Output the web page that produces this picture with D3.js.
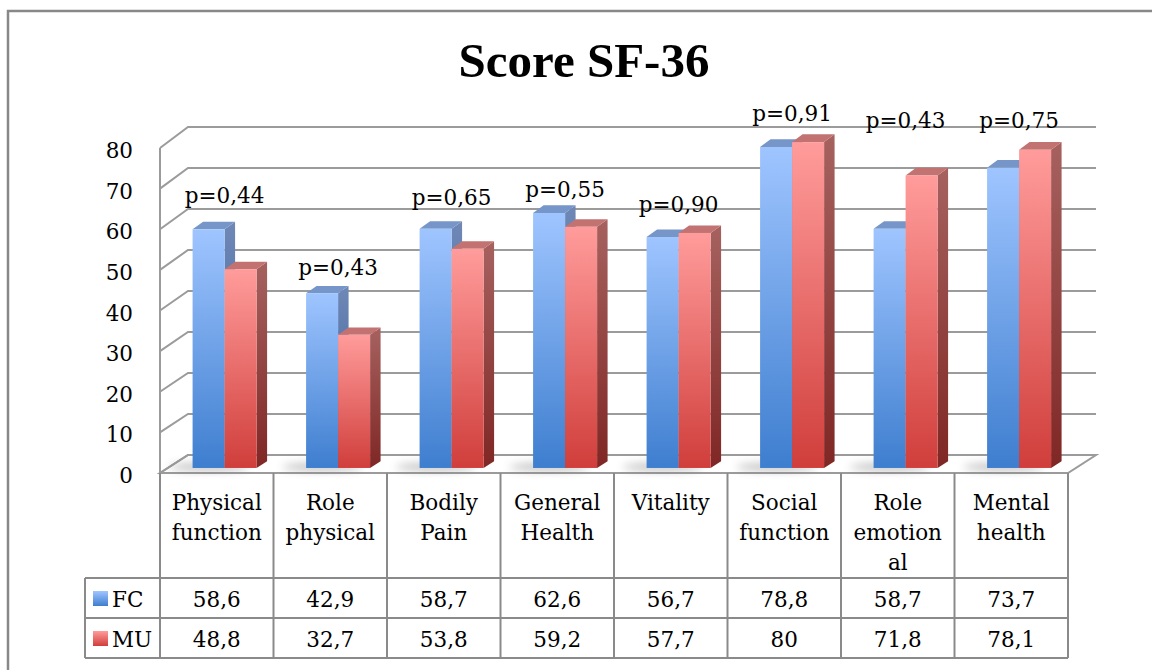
<!DOCTYPE html>
<html>
<head>
<meta charset="utf-8">
<script src="https://cdn.jsdelivr.net/npm/d3@7"></script>
<style>
  body { margin: 0; background: #fff; }
  svg text { font-family: "DejaVu Serif", serif; fill: #000; }
</style>
</head>
<body>
<svg id="chart" width="1152" height="670"></svg>
<script>
// data
var categories = ["Physical function", "Role physical", "Bodily Pain", "General Health",
                  "Vitality", "Social function", "Role emotional", "Mental health"];
var categoryLines = [["Physical", "function"], ["Role", "physical"], ["Bodily", "Pain"], ["General", "Health"],
                     ["Vitality"], ["Social", "function"], ["Role", "emotion", "al"], ["Mental", "health"]];
var series = ["FC", "MU"];
var fcValues = [58.6, 42.9, 58.7, 62.6, 56.7, 78.8, 58.7, 73.7];
var muValues = [48.8, 32.7, 53.8, 59.2, 57.7, 80, 71.8, 78.1];
var fcLabels = ["58,6", "42,9", "58,7", "62,6", "56,7", "78,8", "58,7", "73,7"];
var muLabels = ["48,8", "32,7", "53,8", "59,2", "57,7", "80", "71,8", "78,1"];
var pValues = ["p=0,44", "p=0,43", "p=0,65", "p=0,55", "p=0,90", "p=0,91", "p=0,43", "p=0,75"];
// level (in score units) where each p label sits
var pLabelAt = [65.1, 47.4, 64.6, 66.6, 62.9, 85.2, 83.4, 83.4];
var yTicks = [0, 10, 20, 30, 40, 50, 60, 70, 80];

var svg = d3.select("#chart");

var dims = {
    left: 160, right: 1068,
    depthX: 28,
    frontBottom: 473, frontTop: 148,
    backBottom: 455, backTop: 127
};

// front plane and back wall scales
var yFront = d3.scaleLinear().domain([0, 80]).range([dims.frontBottom, dims.frontTop]);
var yBack = d3.scaleLinear().domain([0, 80]).range([dims.backBottom, dims.backTop]);
var xScale = d3.scaleBand().domain(categories).range([dims.left, dims.right]);
var xSeries = d3.scaleBand().domain(series).range([-32, 32]);

function project(x, v, z) {
    return [x + z * dims.depthX, yFront(v) * (1 - z) + yBack(v) * z];
}

// gradients
var defs = svg.append("defs");
function addGradient(id, c1, c2) {
    var g = defs.append("linearGradient").attr("id", id)
        .attr("x1", 0).attr("y1", 0).attr("x2", 0).attr("y2", 1);
    g.append("stop").attr("offset", "0%").attr("stop-color", c1);
    g.append("stop").attr("offset", "100%").attr("stop-color", c2);
}
addGradient("fcFront", "#9fc5ff", "#3e7ecf");
addGradient("muFront", "#ff9c9b", "#d03e3b");
addGradient("fcSide", "#6f88b6", "#2f5a99");
addGradient("muSide", "#a6625f", "#7f2725");
addGradient("fcLegend", "#9fc5ff", "#3e7ecf");
addGradient("muLegend", "#ff9c9b", "#d03e3b");
var blur = defs.append("filter").attr("id", "shadow").attr("x", "-50%").attr("y", "-200%")
    .attr("width", "200%").attr("height", "500%");
blur.append("feGaussianBlur").attr("stdDeviation", 4);

var colors = {
    FC: { front: "url(#fcFront)", side: "url(#fcSide)", top: "#7696c9" },
    MU: { front: "url(#muFront)", side: "url(#muSide)", top: "#c27371" }
};

// outer frame
svg.append("rect")
    .attr("x", 8).attr("y", 11)
    .attr("width", 1200).attr("height", 700)
    .attr("fill", "none").attr("stroke", "#888").attr("stroke-width", 2.5);

// title
svg.append("text")
    .attr("x", 584).attr("y", 77)
    .attr("text-anchor", "middle")
    .style("font-family", "'Liberation Serif', serif")
    .style("font-weight", "bold")
    .style("font-size", "49px")
    .text("Score SF-36");

var gridColor = "#9b9b9b";
var walls = svg.append("g");

// floor
var floorPts = [project(dims.left, 0, 0), project(dims.right, 0, 0), project(dims.right, 0, 1), project(dims.left, 0, 1)];
walls.append("polygon")
    .attr("points", floorPts.map(p => p.join(",")).join(" "))
    .attr("fill", "#fff").attr("stroke", gridColor).attr("stroke-width", 2);

// grid on back wall and side wall
yTicks.forEach(function(t) {
    var a = project(dims.left, t, 0), b = project(dims.left, t, 1), c = project(dims.right, t, 1);
    walls.append("polyline")
        .attr("points", [a, b, c].map(p => p.join(",")).join(" "))
        .attr("fill", "none").attr("stroke", gridColor).attr("stroke-width", 2);
});
walls.append("line")
    .attr("x1", dims.left).attr("x2", dims.left)
    .attr("y1", yFront(0)).attr("y2", yFront(80))
    .attr("stroke", gridColor).attr("stroke-width", 2);

// y tick labels
svg.append("g").selectAll("text")
    .data(yTicks)
    .enter().append("text")
    .attr("x", 133)
    .attr("y", d => yFront(d) + 10)
    .attr("text-anchor", "end")
    .style("font-size", "21.5px")
    .text(d => d);

// bars
var z0 = 0.28, z1 = 0.655;
var barData = [];
categories.forEach(function(c, i) {
    barData.push({ cat: c, s: "FC", v: fcValues[i] });
    barData.push({ cat: c, s: "MU", v: muValues[i] });
});

// soft shadows on floor
svg.append("g").selectAll("ellipse")
    .data(categories)
    .enter().append("ellipse")
    .attr("cx", d => xScale(d) + xScale.bandwidth() / 2 - 8)
    .attr("cy", yFront(0) - 6)
    .attr("rx", 40).attr("ry", 4)
    .attr("fill", "#777").attr("opacity", 0.45)
    .attr("filter", "url(#shadow)");

var bars = svg.append("g");
barData.forEach(function(d) {
    var cx = xScale(d.cat) + xScale.bandwidth() / 2;
    var x0 = cx + xSeries(d.s), x1 = x0 + xSeries.bandwidth();
    var fl = project(x0, 0, z0), fr = project(x1, 0, z0);
    var tl = project(x0, d.v, z0), tr = project(x1, d.v, z0);
    var btl = project(x0, d.v, z1), btr = project(x1, d.v, z1), bbr = project(x1, 0, z1);
    var col = colors[d.s];
    var g = bars.append("g");
    g.append("polygon")
        .attr("points", [fr, tr, btr, bbr].map(p => p.join(",")).join(" "))
        .attr("fill", col.side);
    g.append("polygon")
        .attr("points", [tl, tr, btr, btl].map(p => p.join(",")).join(" "))
        .attr("fill", col.top);
    g.append("rect")
        .attr("x", tl[0]).attr("y", tl[1])
        .attr("width", tr[0] - tl[0]).attr("height", fl[1] - tl[1])
        .attr("fill", col.front);
});

// p-value labels
svg.append("g").selectAll("text")
    .data(categories)
    .enter().append("text")
    .attr("x", d => project(xScale(d) + xScale.bandwidth() / 2, 0, z0)[0])
    .attr("y", (d, i) => project(0, pLabelAt[i], z0)[1])
    .attr("text-anchor", "middle")
    .style("font-size", "21.5px")
    .text((d, i) => pValues[i]);

// data table
var tableColor = "#8a8a8a";
var rowTop = yFront(0), rowHead = 578, rowFC = 618, rowMU = 658, legendLeft = 85;
var table = svg.append("g");

var colLines = categories.map(c => xScale(c)).concat([dims.right]);
colLines.forEach(function(x, i) {
    table.append("line")
        .attr("x1", x).attr("x2", x)
        .attr("y1", rowTop).attr("y2", rowMU)
        .attr("stroke", tableColor).attr("stroke-width", 2);
});
[rowHead, rowFC, rowMU].forEach(function(y) {
    table.append("line")
        .attr("x1", legendLeft).attr("x2", dims.right)
        .attr("y1", y).attr("y2", y)
        .attr("stroke", tableColor).attr("stroke-width", 2);
});
table.append("line")
    .attr("x1", legendLeft).attr("x2", legendLeft)
    .attr("y1", rowHead).attr("y2", rowMU)
    .attr("stroke", tableColor).attr("stroke-width", 2);

// category headers
categories.forEach(function(c, i) {
    var t = table.append("text")
        .attr("x", xScale(c) + xScale.bandwidth() / 2)
        .attr("y", 510)
        .attr("text-anchor", "middle")
        .style("font-size", "21.5px");
    categoryLines[i].forEach(function(line, j) {
        t.append("tspan")
            .attr("x", xScale(c) + xScale.bandwidth() / 2)
            .attr("dy", j === 0 ? 0 : 30)
            .text(line);
    });
});

// value rows
var rows = [
    { name: "FC", labels: fcLabels, base: 607, legend: "url(#fcLegend)" },
    { name: "MU", labels: muLabels, base: 647, legend: "url(#muLegend)" }
];
rows.forEach(function(r) {
    table.selectAll(".v" + r.name)
        .data(categories)
        .enter().append("text")
        .attr("x", d => xScale(d) + xScale.bandwidth() / 2)
        .attr("y", r.base)
        .attr("text-anchor", "middle")
        .style("font-size", "21.5px")
        .text((d, i) => r.labels[i]);
    table.append("rect")
        .attr("x", 93).attr("y", r.base - 16)
        .attr("width", 15).attr("height", 15)
        .attr("fill", r.legend);
    table.append("text")
        .attr("x", 112).attr("y", r.base)
        .style("font-size", "21.5px")
        .text(r.name);
});
</script>
</body>
</html>
